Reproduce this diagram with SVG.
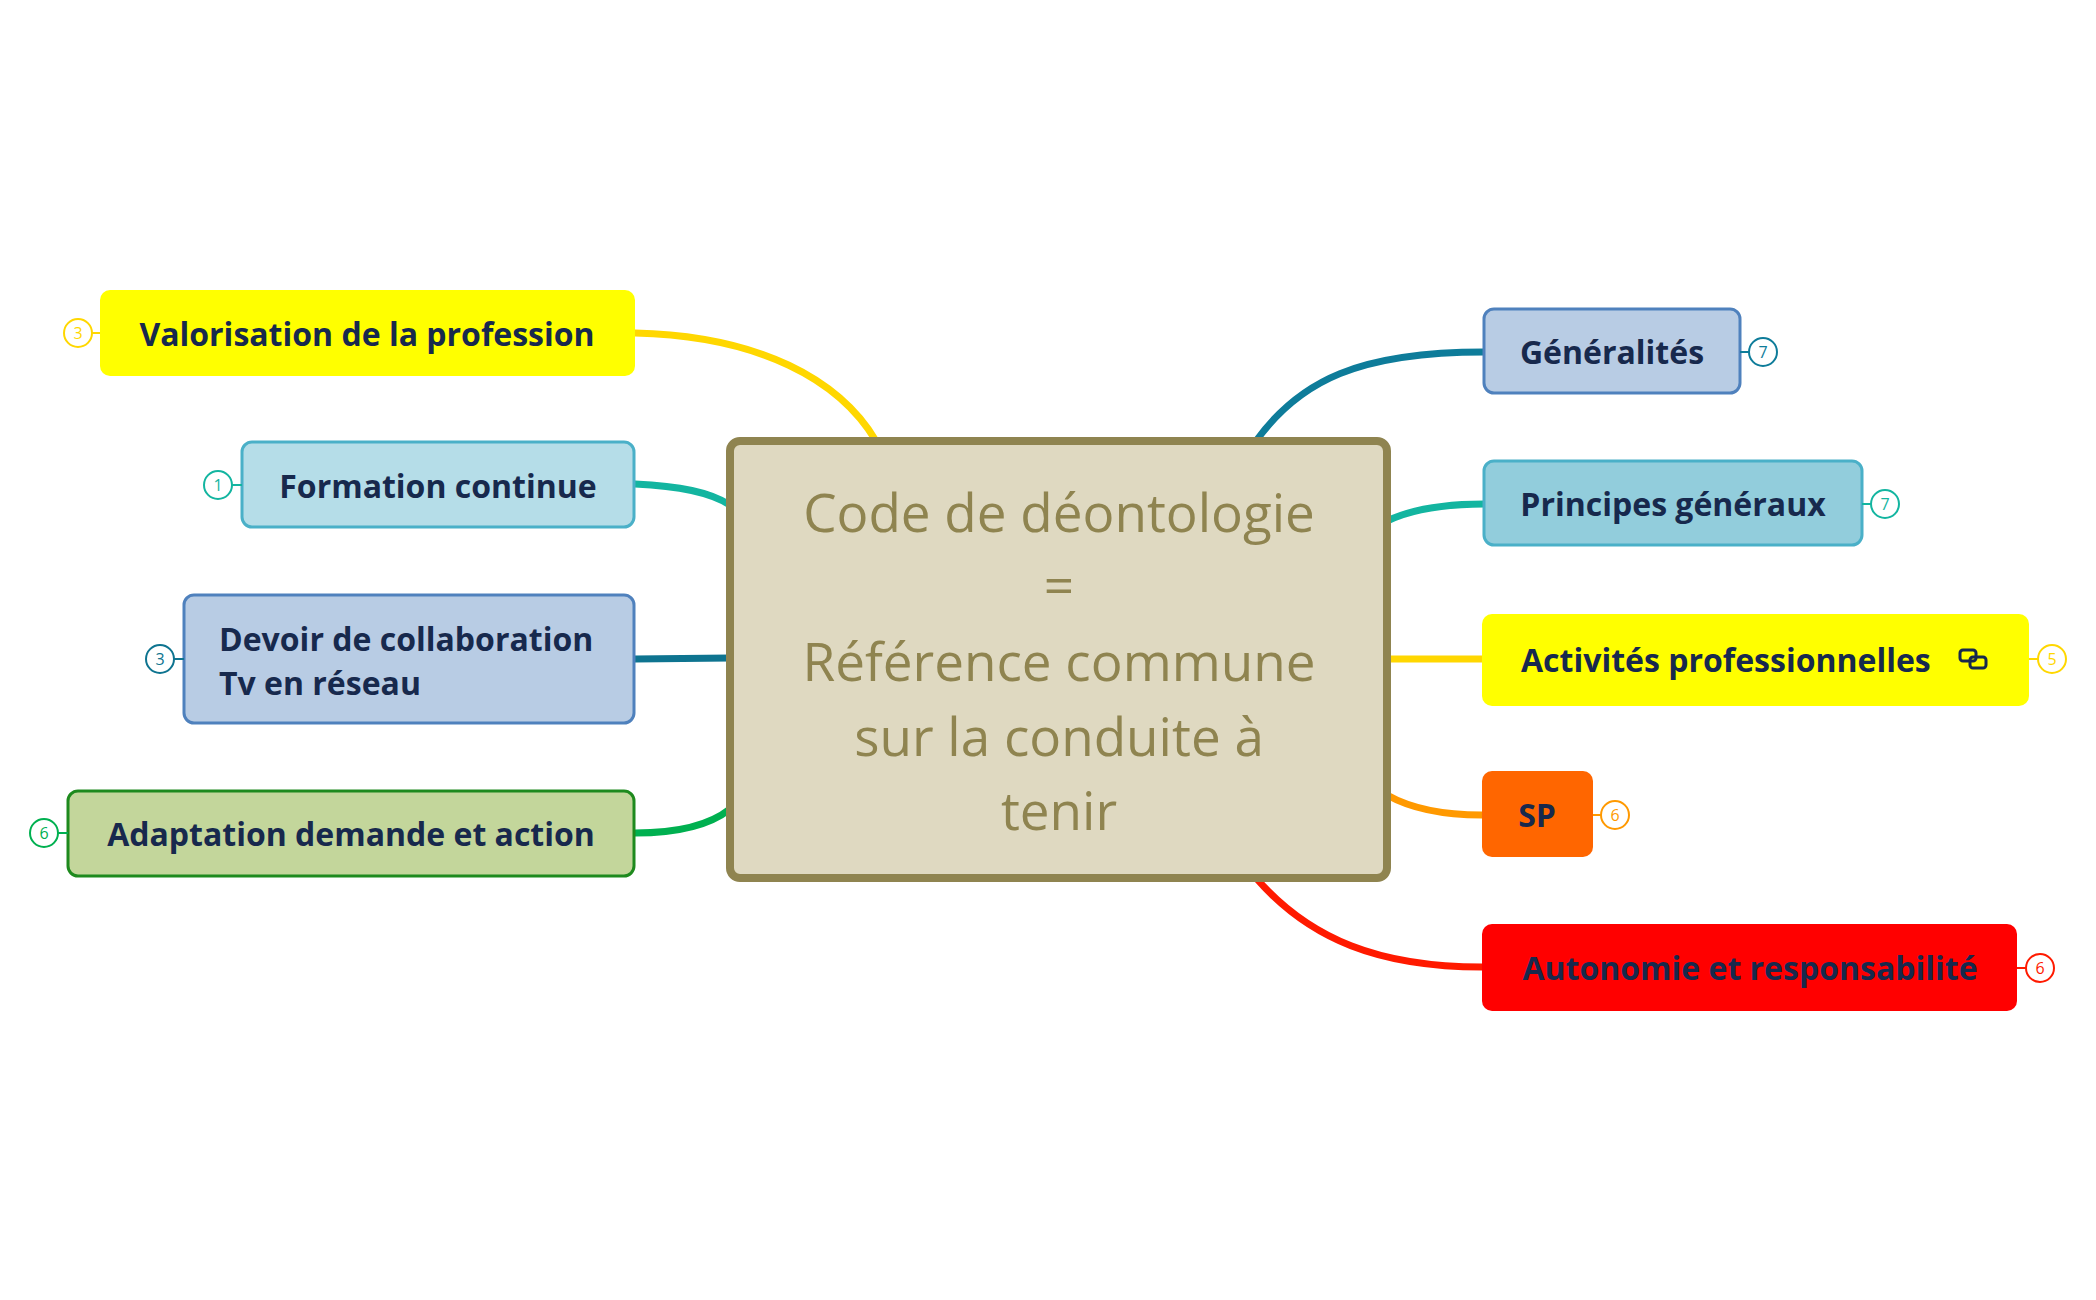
<svg xmlns="http://www.w3.org/2000/svg" width="2096" height="1300" viewBox="0 0 2096 1300">
<style>
.t{font-family:"Open Sans","Noto Sans",sans-serif;font-weight:bold;font-size:32px;fill:#17294d;dominant-baseline:central}
.c{font-family:"Open Sans","Noto Sans",sans-serif;font-size:53px;fill:#8f8450;text-anchor:middle;dominant-baseline:central}
.b{font-family:"Open Sans","Noto Sans",sans-serif;font-size:16px;text-anchor:middle;dominant-baseline:central}
.l{fill:none;stroke-width:7;stroke-linecap:round}
.n{stroke-width:3}
</style>
<rect width="2096" height="1300" fill="#fff"/>
<g id="connectors">
<path class="l" stroke="#ffd700" d="M635,333 C760,336 840,380 876,441"/>
<path class="l" stroke="#13b5a0" d="M635,484 C680,486 710,492 730,505"/>
<path class="l" stroke="#0e7490" d="M635,659 L730,658"/>
<path class="l" stroke="#00b050" d="M635,833 C680,833 710,825 730,809"/>
<path class="l" stroke="#0e7c9a" d="M1256,441 C1300,380 1360,352 1484,352"/>
<path class="l" stroke="#13b5a0" d="M1387,521 C1410,510 1440,504 1484,504"/>
<path class="l" stroke="#ffd700" d="M1387,659 L1482,659"/>
<path class="l" stroke="#ff9900" d="M1387,795 C1410,808 1440,815 1482,815"/>
<path class="l" stroke="#ff1a00" d="M1256,878 C1310,940 1380,967 1482,967"/>
</g>
<g id="center">
<rect x="730" y="441" width="657" height="437" rx="10" fill="#dfd9c1" stroke="#8f8450" stroke-width="8"/>
<text class="c" x="1059" y="511">Code de déontologie</text>
<text class="c" x="1059" y="584">=</text>
<text class="c" x="1059" y="660">Référence commune</text>
<text class="c" x="1059" y="735">sur la conduite à</text>
<text class="c" x="1059" y="809">tenir</text>
</g>
<g id="valorisation">
<rect x="100" y="290" width="535" height="86" rx="10" fill="#ffff00"/>
<text class="t" x="367" y="333" text-anchor="middle">Valorisation de la profession</text>
<line x1="92" y1="333" x2="100" y2="333" stroke="#ffd700" stroke-width="2"/>
<circle cx="78" cy="333" r="14" fill="#fff" stroke="#ffd700" stroke-width="2"/><text class="b" x="78" y="333" fill="#ffd700">3</text>
</g>
<g id="formation">
<rect x="242" y="442" width="392" height="85" rx="10" fill="#b5dde8" stroke="#4ab0c8" class="n"/>
<text class="t" x="438" y="485" text-anchor="middle">Formation continue</text>
<line x1="232" y1="485" x2="242" y2="485" stroke="#13b5a0" stroke-width="2"/>
<circle cx="218" cy="485" r="14" fill="#fff" stroke="#13b5a0" stroke-width="2"/><text class="b" x="218" y="485" fill="#13b5a0">1</text>
</g>
<g id="devoir">
<rect x="184" y="595" width="450" height="128" rx="10" fill="#b8cce4" stroke="#4f81bd" class="n"/>
<text class="t" x="219" y="638">Devoir de collaboration</text>
<text class="t" x="219" y="682">Tv en réseau</text>
<line x1="174" y1="659" x2="184" y2="659" stroke="#0e7490" stroke-width="2"/>
<circle cx="160" cy="659" r="14" fill="#fff" stroke="#0e7490" stroke-width="2"/><text class="b" x="160" y="659" fill="#0e7490">3</text>
</g>
<g id="adaptation">
<rect x="68" y="791" width="566" height="85" rx="10" fill="#c3d69b" stroke="#1e8a1e" class="n"/>
<text class="t" x="351" y="833" text-anchor="middle">Adaptation demande et action</text>
<line x1="58" y1="833" x2="68" y2="833" stroke="#00b050" stroke-width="2"/>
<circle cx="44" cy="833" r="14" fill="#fff" stroke="#00b050" stroke-width="2"/><text class="b" x="44" y="833" fill="#00b050">6</text>
</g>
<g id="generalites">
<rect x="1484" y="309" width="256" height="84" rx="10" fill="#b8cce4" stroke="#4f81bd" class="n"/>
<text class="t" x="1612" y="351" text-anchor="middle">Généralités</text>
<line x1="1740" y1="352" x2="1749" y2="352" stroke="#0e7c9a" stroke-width="2"/>
<circle cx="1763" cy="352" r="14" fill="#fff" stroke="#0e7c9a" stroke-width="2"/><text class="b" x="1763" y="352" fill="#0e7c9a">7</text>
</g>
<g id="principes">
<rect x="1484" y="461" width="378" height="84" rx="10" fill="#92cddc" stroke="#4ab0c8" class="n"/>
<text class="t" x="1673" y="503" text-anchor="middle">Principes généraux</text>
<line x1="1862" y1="504" x2="1871" y2="504" stroke="#13b5a0" stroke-width="2"/>
<circle cx="1885" cy="504" r="14" fill="#fff" stroke="#13b5a0" stroke-width="2"/><text class="b" x="1885" y="504" fill="#13b5a0">7</text>
</g>
<g id="activites">
<rect x="1482" y="614" width="547" height="92" rx="10" fill="#ffff00"/>
<text class="t" x="1521" y="659">Activités professionnelles</text>
<g fill="none" stroke="#17294d" stroke-width="3"><rect x="1960" y="650" width="16" height="11" rx="3"/><rect x="1970" y="657" width="16" height="11" rx="3"/></g>
<line x1="2029" y1="659" x2="2038" y2="659" stroke="#ffd700" stroke-width="2"/>
<circle cx="2052" cy="659" r="14" fill="#fff" stroke="#ffd700" stroke-width="2"/><text class="b" x="2052" y="659" fill="#ffd700">5</text>
</g>
<g id="sp">
<rect x="1482" y="771" width="111" height="86" rx="10" fill="#ff6600"/>
<text class="t" x="1537" y="814" text-anchor="middle">SP</text>
<line x1="1593" y1="815" x2="1601" y2="815" stroke="#ff9900" stroke-width="2"/>
<circle cx="1615" cy="815" r="14" fill="#fff" stroke="#ff9900" stroke-width="2"/><text class="b" x="1615" y="815" fill="#ff9900">6</text>
</g>
<g id="autonomie">
<rect x="1482" y="924" width="535" height="87" rx="10" fill="#ff0000"/>
<text class="t" x="1750" y="967" text-anchor="middle">Autonomie et responsabilité</text>
<line x1="2017" y1="968" x2="2026" y2="968" stroke="#ff1a00" stroke-width="2"/>
<circle cx="2040" cy="968" r="14" fill="#fff" stroke="#ff1a00" stroke-width="2"/><text class="b" x="2040" y="968" fill="#ff1a00">6</text>
</g>
</svg>
